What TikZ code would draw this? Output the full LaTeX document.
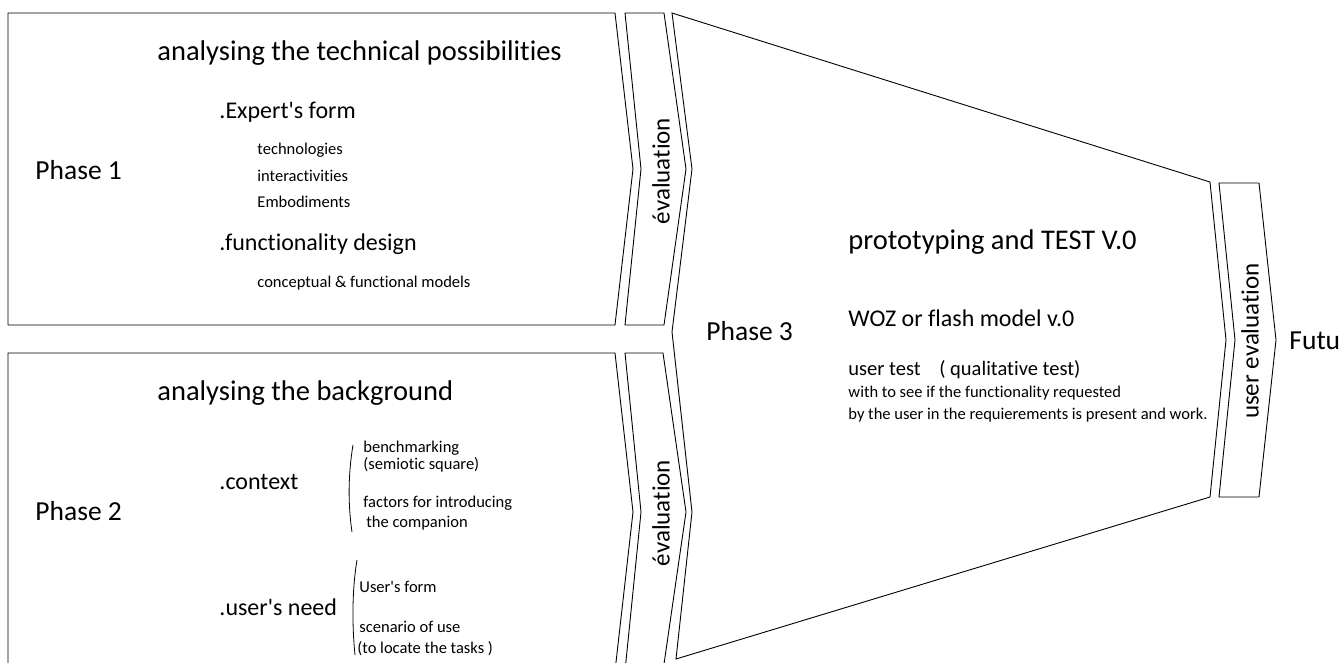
\documentclass[tikz,border=0pt]{standalone}
\usepackage{fontspec}
\setsansfont{Carlito}[Ligatures=NoCommon]
\newcommand{\apos}{\textquotesingle}
\begin{document}
\begin{tikzpicture}[
  x=1pt, y=-1pt,
  every node/.style={font=\sffamily, inner sep=0pt, anchor=base west},
  phase/.style={font=\sffamily\fontsize{27.5}{30}\selectfont},
  head/.style={font=\sffamily\fontsize{28.5}{32}\selectfont},
  sub/.style={font=\sffamily\fontsize{24}{28}\selectfont},
  item/.style={font=\sffamily\fontsize{16.5}{19}\selectfont},
  evaltext/.style={font=\sffamily\fontsize{25}{28}\selectfont, rotate=90, anchor=center},
  line width=0.9pt, line join=miter
]
\useasboundingbox (0,0) rectangle (1342,662);
\fill[white] (0,0) rectangle (1342,662);
\clip (0,0) rectangle (1342,662);

% blocks
\draw (615,13) -- (8,13) -- (8,325) -- (615,325) -- (633,169) -- cycle;
\draw (625,13) -- (664,13) -- (686,169) -- (664,325) -- (625,325) -- (641,169) -- cycle;
\draw (615,353) -- (8,353) -- (8,671) -- (615,671) -- (633,512) -- cycle;
\draw (625,353) -- (663,353) -- (686,512) -- (663,671) -- (625,671) -- (641,512) -- cycle;
\draw (672,13) -- (1210,182) -- (1226,340) -- (1210,497) -- (676,659)
  -- (692,512) -- (672,332) -- (692,169) -- cycle;
\draw (1219,183) -- (1259,183) -- (1276,340) -- (1259,497) -- (1219,497) -- (1235,340) -- cycle;

% phase 1
\node[phase] (phase1) at (35,179) {Phase 1};
\node[head] (head1) at (157,60) {analysing the technical possibilities};
\node[sub] (expert) at (219,118) {.Expert\apos s form};
\node[item] (tech) at (257,154) {technologies};
\node[item] (inter) at (257,181) {interactivities};
\node[item] (embod) at (257,207) {Embodiments};
\node[sub] (funct) at (219,250) {.functionality design};
\node[item] (concept) at (257,287) {conceptual \& functional models};

% phase 2
\node[phase] (phase2) at (35,520) {Phase 2};
\node[head] (head2) at (157,400) {analysing the background};
\node[sub] (context) at (219,489) {.context};
\node[item] (bench) at (363,452) {benchmarking};
\node[item] (semio) at (363,469) {(semiotic square)};
\node[item] (factors) at (363,507) {factors for introducing};
\node[item] (compan) at (366,527) {the companion};
\node[sub] (userneed) at (219,615) {.user\apos s need};
\node[item] (userform) at (359,592) {User\apos s form};
\node[item] (scenario) at (359,632) {scenario of use};
\node[item] (locate) at (357,653) {(to locate the tasks )};
\draw[line width=0.8pt] (353,445) .. controls (348,475) and (348,505) .. (352,532);
\draw[line width=0.8pt] (357,560) .. controls (352,590) and (352,625) .. (355,655);

% evaluations
\node[evaltext] (eval1) at (661,171) {évaluation};
\node[evaltext] (eval2) at (661,513) {évaluation};
\node[evaltext] (usereval) at (1250,341) {user evaluation};

% phase 3
\node[phase] (phase3) at (706,340) {Phase 3};
\node[head] (proto) at (848,249) {prototyping and TEST V.0};
\node[sub] (woz) at (848,326) {WOZ or flash model v.0};
\node[font=\sffamily\fontsize{20.5}{24}\selectfont] (usertest) at (848,375)
  {user test\hspace{14pt} ( qualitative test)};
\node[item] (withsee) at (848,397) {with to see if the functionality requested};
\node[item] (byuser) at (848,419) {by the user in the requierements is present and work.};
\node[phase] (future) at (1289,349) {Futu};
\end{tikzpicture}
\end{document}
